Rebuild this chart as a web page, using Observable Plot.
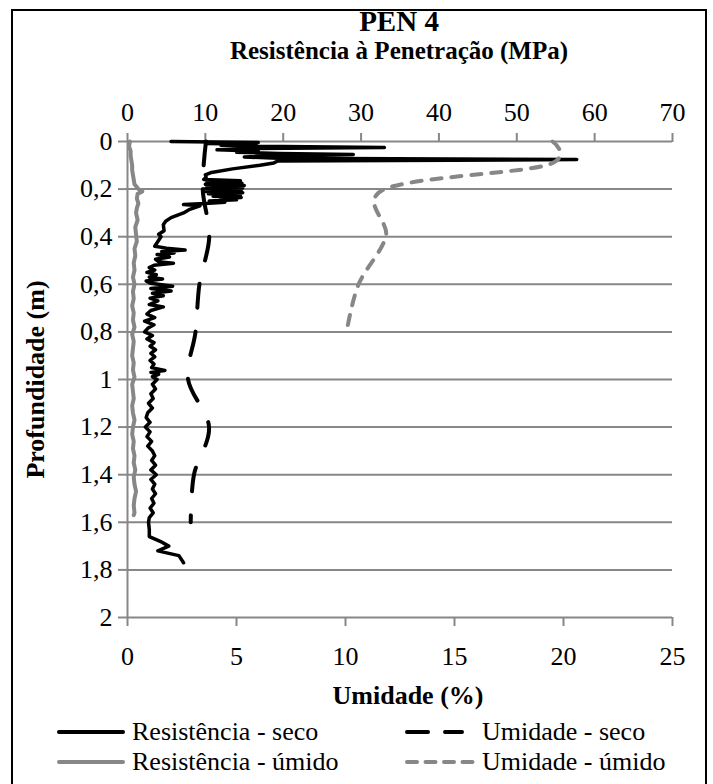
<!DOCTYPE html>
<html><head><meta charset="utf-8">
<script src="https://cdn.jsdelivr.net/npm/d3@7"></script>
<script src="https://cdn.jsdelivr.net/npm/@observablehq/plot@0.6"></script>
<style>
body{margin:0;background:#fff;}
#wrap{position:relative;width:713px;height:784px;font-family:"Liberation Serif","Times New Roman",serif;color:#000;overflow:hidden;background:#fff;}
#frame{position:absolute;left:11px;top:9px;width:696px;height:780px;border:2px solid #000;box-sizing:border-box;}
.t{position:absolute;left:126px;width:546px;text-align:center;font-weight:bold;white-space:nowrap;}
#chart{position:absolute;left:0;top:90px;}
.leg{position:absolute;font-size:26px;line-height:26px;white-space:nowrap;}
.sw{position:absolute;}
</style></head>
<body>
<div id="wrap">
  <div id="frame"></div>
  <div class="t" style="top:7px;font-size:29px;line-height:29px;">PEN 4</div>
  <div class="t" style="top:38px;font-size:25px;line-height:25px;">Resistência à Penetração (MPa)</div>
  <div id="chart"></div>
  <div class="t" style="top:683px;left:135px;font-size:26px;line-height:26px;">Umidade (%)</div>
  <div id="legend"></div>
</div>
<script>
// ---- data ----
const depthTicks = [0, 0.2, 0.4, 0.6, 0.8, 1, 1.2, 1.4, 1.6, 1.8, 2];
const umidadeTicks = [0, 5, 10, 15, 20, 25];
const resistenciaTicks = [0, 10, 20, 30, 40, 50, 60, 70];
const seriesNames = ["Resistência - seco", "Umidade - seco", "Resistência - úmido", "Umidade - úmido"];

// [profundidade (m), resistência (MPa)]
const resistenciaSeco = [
  [0.000,5.6],[0.004,16.8],[0.008,10.2],[0.012,16.5],[0.016,12.0],[0.020,16.6],[0.025,33.0],[0.030,16.0],
  [0.035,11.5],[0.040,16.8],[0.045,14.0],[0.050,19.5],[0.055,29.0],[0.060,19.0],[0.065,15.0],[0.070,19.3],
  [0.076,57.7],[0.082,19.3],[0.090,18.8],[0.100,17.0],[0.115,13.5],[0.130,10.8],[0.140,10.0],[0.150,10.1],
  [0.160,9.8],[0.165,14.5],[0.170,10.2],[0.175,14.7],[0.180,10.0],[0.185,15.0],[0.190,10.2],[0.195,14.8],
  [0.200,9.8],[0.205,14.6],[0.210,10.0],[0.215,14.8],[0.220,10.4],[0.225,14.5],[0.230,11.0],[0.235,14.6],
  [0.240,12.0],[0.245,14.0],[0.250,10.5],[0.255,12.5],[0.260,10.0],[0.265,7.2],[0.270,9.3],[0.285,8.0],
  [0.300,7.2],[0.320,5.6],[0.335,4.9],[0.350,4.6],[0.375,4.7],[0.390,4.0],[0.400,4.3],[0.420,3.9],
  [0.440,3.5],[0.448,5.0],[0.456,7.4],[0.462,4.4],[0.468,6.0],[0.475,3.8],[0.485,5.4],[0.495,3.6],
  [0.505,4.0],[0.512,5.9],[0.520,3.4],[0.530,2.8],[0.540,3.5],[0.550,2.5],[0.560,3.7],[0.570,2.8],
  [0.578,4.5],[0.586,2.4],[0.596,3.0],[0.608,5.8],[0.618,3.0],[0.628,5.6],[0.638,3.2],[0.648,4.6],
  [0.658,2.9],[0.670,3.9],[0.685,2.8],[0.695,4.6],[0.710,3.0],[0.725,2.5],[0.740,3.5],[0.755,2.2],
  [0.770,3.4],[0.785,2.6],[0.800,2.2],[0.815,3.2],[0.830,2.5],[0.845,3.4],[0.860,2.9],[0.875,3.6],
  [0.890,3.0],[0.905,3.5],[0.920,2.9],[0.935,3.4],[0.950,3.1],[0.962,4.8],[0.970,3.0],[0.978,4.0],
  [0.988,3.2],[1.00,3.8],[1.02,3.2],[1.04,3.6],[1.06,3.0],[1.08,3.3],[1.10,2.7],[1.12,3.2],
  [1.14,2.6],[1.16,2.4],[1.18,2.9],[1.20,2.3],[1.22,2.9],[1.24,2.5],[1.26,3.1],[1.28,2.6],
  [1.30,3.2],[1.32,3.5],[1.34,3.1],[1.36,3.6],[1.38,3.0],[1.40,3.7],[1.42,3.0],[1.44,3.5],
  [1.46,3.2],[1.48,3.6],[1.50,3.1],[1.52,3.4],[1.54,2.9],[1.56,3.3],[1.58,2.8],[1.60,2.7],
  [1.63,2.8],[1.66,2.8],[1.68,4.2],[1.70,5.3],[1.72,3.9],[1.74,6.6],[1.77,7.2]
];
const resistenciaUmido = [
  [0,0.3],[0.02,0.2],[0.04,0.4],[0.06,0.4],[0.08,0.5],[0.10,0.6],[0.12,0.6],[0.14,0.7],[0.16,0.8],[0.18,0.9],
  [0.20,1.4],[0.21,1.9],[0.22,1.3],[0.24,1.2],[0.26,1.4],[0.28,1.2],[0.30,1.1],[0.33,1.3],[0.36,1.0],[0.39,1.1],
  [0.42,1.2],[0.45,0.9],[0.48,1.0],[0.51,0.8],[0.54,0.9],[0.57,0.7],[0.60,0.9],[0.63,0.7],[0.66,0.8],[0.69,0.6],
  [0.72,0.8],[0.75,0.7],[0.78,0.9],[0.81,0.6],[0.84,0.8],[0.87,0.7],[0.90,0.6],[0.93,0.8],[0.96,0.7],[0.99,0.9],
  [1.02,0.6],[1.05,0.7],[1.08,0.8],[1.11,0.6],[1.14,0.7],[1.17,0.9],[1.20,0.7],[1.23,0.6],[1.26,0.8],[1.29,0.7],
  [1.32,0.9],[1.35,0.8],[1.38,1.0],[1.41,0.8],[1.44,0.9],[1.47,1.1],[1.50,0.9],[1.53,0.8],[1.56,0.9],[1.57,0.8]
];
// [profundidade (m), umidade (%)]
const umidadeSeco = [[0,3.6],[0.2,3.45],[0.4,3.75],[0.6,3.3],[0.8,3.12],[1.0,2.78],[1.2,3.74],[1.4,3.05],[1.6,2.9]];
const umidadeUmido = [[0,19.5],[0.1,19.2],[0.2,11.8],[0.4,11.85],[0.6,10.6],[0.8,10.05]];

// ---- chart ----
const k = 25 / 70; // MPa -> % axis
const GRAY = "#878787";
const toRes = arr => arr.map(([d, v]) => ({depth: d, x: v * k}));
const toUm = arr => arr.map(([d, v]) => ({depth: d, x: v}));
const fmtDepth = d => String(+d.toFixed(1)).replace(".", ",");

const chart = Plot.plot({
  width: 713,
  height: 580,
  marginTop: 51,
  marginBottom: 53,
  marginLeft: 127,
  marginRight: 41,
  style: {fontFamily: "'Liberation Serif','Times New Roman',serif", fontSize: "26px", color: "#000", background: "transparent"},
  x: {domain: [0, 25]},
  y: {domain: [0, 2], reverse: true},
  marks: [
    Plot.gridY(depthTicks, {stroke: GRAY, strokeOpacity: 1, strokeWidth: 2}),
    Plot.ruleX([0], {stroke: GRAY, strokeWidth: 2}),
    Plot.axisY(depthTicks, {tickFormat: fmtDepth, tickSize: 9, tickPadding: 6, stroke: GRAY, strokeWidth: 2, fontSize: 26, label: null}),
    Plot.axisX(umidadeTicks, {anchor: "bottom", tickSize: 9, tickPadding: 20, stroke: GRAY, strokeWidth: 2, fontSize: 26, label: null}),
    Plot.axisX(resistenciaTicks.map(v => v * k), {anchor: "top", tickFormat: d => Math.round(d / k), tickSize: 9, tickPadding: 12, stroke: GRAY, strokeWidth: 2, fontSize: 26, label: null}),
    Plot.text(["Profundidade (m)"], {frameAnchor: "left", textAnchor: "middle", dx: -92, rotate: -90, fontWeight: "bold", fontSize: 26}),
    Plot.line(toRes(resistenciaUmido), {x: "x", y: "depth", stroke: GRAY, strokeWidth: 4, strokeLinejoin: "round"}),
    Plot.line(toRes(resistenciaSeco), {x: "x", y: "depth", stroke: "#000", strokeWidth: 3.5, strokeLinejoin: "round"}),
    Plot.line(toUm(umidadeSeco), {x: "x", y: "depth", curve: "cardinal", tension: 0, stroke: "#000", strokeWidth: 4, strokeDasharray: "24,24", strokeLinecap: "round"}),
    Plot.line(toUm(umidadeUmido), {x: "x", y: "depth", curve: "cardinal", tension: 0, stroke: GRAY, strokeWidth: 4, strokeDasharray: "10,10", strokeLinecap: "round"})
  ]
});
document.getElementById("chart").appendChild(chart);

// ---- legend ----
const legendStyles = [
  {stroke: "#000", dash: null, sx: 59, len: 64, tx: 132, y: 732},
  {stroke: "#000", dash: "21,17", sx: 407, len: 55, tx: 482, y: 732},
  {stroke: GRAY, dash: null, sx: 59, len: 64, tx: 132, y: 762},
  {stroke: GRAY, dash: "10,8.5", sx: 407, len: 66, tx: 482, y: 762}
];
const legend = document.getElementById("legend");
seriesNames.forEach((name, i) => {
  const s = legendStyles[i];
  const sw = document.createElementNS("http://www.w3.org/2000/svg", "svg");
  sw.setAttribute("class", "sw");
  sw.setAttribute("width", s.len + 6);
  sw.setAttribute("height", 10);
  sw.style.left = (s.sx - 3) + "px";
  sw.style.top = (s.y - 5) + "px";
  sw.innerHTML = `<line x1="3" x2="${s.len + 3}" y1="5" y2="5" stroke="${s.stroke}" stroke-width="4" ${s.dash ? `stroke-dasharray="${s.dash}"` : ""} stroke-linecap="round"/>`;
  legend.appendChild(sw);
  const div = document.createElement("div");
  div.className = "leg";
  div.style.left = s.tx + "px";
  div.style.top = (s.y - 13) + "px";
  div.textContent = name;
  legend.appendChild(div);
});
</script>
</body></html>
